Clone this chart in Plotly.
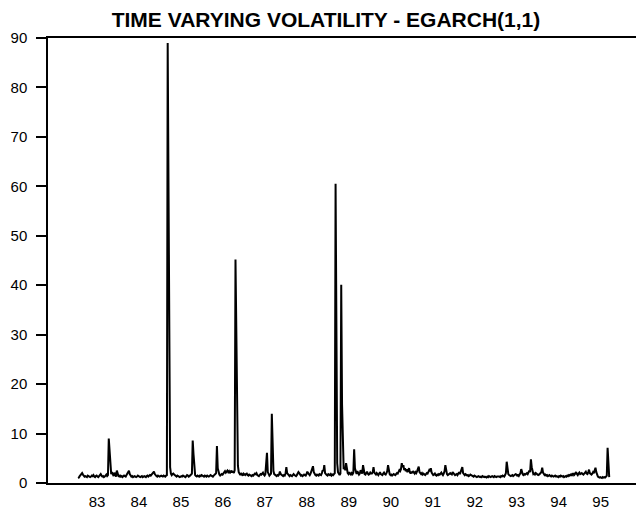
import numpy as np
import plotly.graph_objects as go

# Weekly conditional variance from an EGARCH(1,1) fit, one list per year
# (each year starts at x = 83.05 + k and holds up to 52 weekly observations).
vol_83 = [1.0, 1.1, 1.4, 1.6, 1.8, 2.0, 1.7, 1.5, 1.3, 1.4,
          1.3, 1.2, 1.5, 1.4, 1.3, 1.2, 1.3, 1.5, 1.4, 1.6,
          1.3, 1.2, 1.4, 1.5, 1.3, 1.2, 1.4, 1.6, 1.8, 1.5,
          1.3, 1.4, 1.2, 1.3, 1.5, 1.7, 1.4, 1.6, 9.0, 6.3,
          2.4, 1.8, 2.2, 1.6, 1.4, 2.1, 1.5, 1.3, 2.5, 1.6,
          1.4, 1.3]
vol_84 = [1.5, 1.3, 1.4, 1.2, 1.3, 1.5, 1.4, 1.3, 1.6, 1.9,
          2.1, 2.5, 1.8, 1.5, 1.3, 1.4, 1.2, 1.3, 1.4, 1.3,
          1.2, 1.3, 1.5, 1.4, 1.3, 1.2, 1.3, 1.4, 1.2, 1.3,
          1.4, 1.3, 1.2, 1.4, 1.5, 1.3, 1.4, 1.6, 1.5, 1.7,
          1.9, 2.1, 2.3, 1.8, 1.5, 1.4, 1.3, 1.5, 1.4, 1.3,
          1.4, 1.5]
vol_85 = [1.4, 1.3, 1.5, 1.4, 1.3, 1.5, 1.6, 89.0, 63.5, 37.5,
          3.2, 1.9, 1.6, 1.8, 1.9, 1.7, 1.5, 1.4, 1.3, 1.5,
          1.4, 1.3, 1.2, 1.3, 1.4, 1.3, 1.5, 1.4, 1.3, 1.2,
          1.4, 1.6, 1.5, 1.3, 1.4, 1.5, 1.7, 1.9, 8.6, 5.8,
          2.0, 1.6, 1.4, 1.3, 1.5, 1.4, 1.3, 1.5, 1.4, 1.6,
          1.5, 1.4]
vol_86 = [1.3, 1.5, 1.4, 1.3, 1.5, 1.4, 1.3, 1.4, 1.6, 1.5,
          1.4, 1.3, 1.5, 1.6, 1.8, 2.0, 7.5, 3.0, 1.9, 1.7,
          1.5, 1.6, 1.8, 1.7, 2.0, 2.2, 2.4, 2.1, 2.3, 2.5,
          2.2, 2.4, 2.0, 2.3, 2.5, 2.1, 2.4, 2.0, 2.6, 45.2,
          28.0, 18.0, 3.5, 2.2, 1.8, 1.6, 2.0, 1.7, 1.5, 1.9,
          1.7, 1.6]
vol_87 = [1.8, 1.9, 1.6, 1.5, 1.7, 1.6, 1.5, 1.4, 1.6, 1.5,
          1.7, 1.9, 1.8, 2.0, 1.6, 1.5, 1.4, 1.6, 1.8, 1.7,
          1.9, 2.1, 1.7, 1.5, 1.8, 4.0, 6.1, 2.2, 1.6, 1.5,
          1.7, 1.9, 14.0, 7.1, 2.4, 1.8, 1.6, 1.5, 1.4, 1.6,
          1.5, 1.7, 2.3, 1.8, 1.6, 1.5, 1.4, 1.6, 1.5, 1.9,
          3.2, 2.0]
vol_88 = [1.7, 1.5, 1.4, 1.6, 1.5, 1.4, 1.6, 1.8, 1.6, 1.5,
          1.4, 1.6, 1.8, 2.2, 2.0, 1.7, 1.5, 1.6, 1.4, 1.5,
          1.7, 1.6, 1.5, 1.8, 2.3, 2.0, 1.7, 1.6, 1.9, 2.4,
          2.8, 3.4, 2.2, 1.8, 1.6, 1.5, 1.7, 1.6, 1.5, 1.8,
          1.7, 1.6, 2.0, 2.6, 2.4, 3.6, 2.0, 1.7, 1.6, 1.5,
          1.8, 1.7]
vol_89 = [1.6, 1.8, 1.5, 1.7, 1.6, 1.8, 2.0, 60.5, 32.0, 4.0,
          2.2, 1.8, 1.6, 1.9, 40.1, 16.0, 4.5, 2.8, 3.2, 2.6,
          4.0, 2.4, 2.0, 1.8, 2.2, 1.9, 1.7, 2.0, 1.8, 2.1,
          6.8, 3.0, 2.0, 1.8, 2.4, 2.0, 1.7, 1.9, 2.6, 2.2,
          1.9, 3.6, 2.3, 1.8, 1.7, 2.0, 2.3, 1.9, 1.7, 1.8,
          2.1, 1.9]
vol_90 = [1.9, 2.2, 3.2, 2.1, 1.8, 1.7, 2.0, 1.8, 1.6, 1.9,
          2.2, 1.8, 1.7, 1.6, 1.9, 2.1, 1.8, 1.7, 2.0, 2.4,
          3.6, 2.2, 1.8, 1.6, 1.7, 1.5, 1.6, 1.8, 1.7, 1.6,
          1.8, 2.0, 1.9, 2.3, 2.6, 2.4, 2.8, 4.0, 3.2, 3.6,
          2.6, 3.0, 2.4, 2.8, 2.2, 2.5, 3.0, 2.2, 1.9, 2.3,
          2.0, 2.4]
vol_91 = [2.1, 1.9, 2.2, 2.0, 2.4, 2.8, 3.3, 2.2, 1.9, 1.8,
          2.0, 1.7, 1.9, 1.8, 1.6, 1.8, 2.0, 1.9, 2.2, 2.6,
          2.4, 3.0, 2.1, 1.8, 1.6, 1.7, 1.9, 1.6, 1.5, 1.7,
          1.6, 1.8, 1.7, 1.9, 2.1, 1.8, 1.6, 1.9, 2.4, 3.6,
          2.2, 1.8, 1.6, 1.7, 1.9, 2.0, 1.8, 1.7, 2.2, 1.9,
          1.7, 1.6]
vol_92 = [1.7, 1.8, 1.6, 1.9, 2.2, 1.8, 2.4, 2.8, 3.2, 2.0,
          1.7, 1.6, 1.8, 1.7, 1.5, 1.6, 1.4, 1.5, 1.7, 1.6,
          1.5, 1.4, 1.3, 1.5, 1.4, 1.3, 1.2, 1.3, 1.4, 1.3,
          1.2, 1.3, 1.2, 1.4, 1.3, 1.2, 1.3, 1.2, 1.1, 1.3,
          1.2, 1.4, 1.3, 1.2, 1.3, 1.4, 1.3, 1.2, 1.4, 1.3,
          1.2, 1.3]
vol_93 = [1.3, 1.4, 1.3, 1.2, 1.4, 1.3, 1.5, 1.4, 1.3, 1.6,
          2.0, 4.3, 2.4, 1.8, 1.6, 1.5, 1.4, 1.5, 1.6, 1.4,
          1.5, 1.6, 1.8, 1.7, 1.5, 1.6, 1.4, 1.7, 2.0, 2.8,
          2.0, 1.7, 1.6, 1.8, 1.7, 1.9, 2.0, 1.8, 2.2, 2.5,
          2.2, 4.8, 3.2, 2.4, 1.8, 1.9, 1.7, 2.0, 1.8, 1.7,
          1.6, 1.7]
vol_94 = [1.8, 2.0, 2.3, 3.1, 2.1, 1.8, 1.6, 1.7, 1.5, 1.6,
          1.4, 1.5, 1.6, 1.4, 1.3, 1.5, 1.4, 1.3, 1.4, 1.5,
          1.3, 1.4, 1.3, 1.2, 1.4, 1.3, 1.5, 1.4, 1.3, 1.4,
          1.2, 1.3, 1.4, 1.3, 1.5, 1.4, 1.6, 1.5, 1.7, 1.6,
          1.8, 1.6, 2.0, 1.7, 1.9, 2.2, 1.8, 1.6, 1.9, 2.1,
          1.8, 2.0]
vol_95 = [2.0, 1.8, 1.7, 1.9, 2.1, 2.3, 1.9, 1.8, 2.2, 2.7,
          2.0, 1.8, 1.7, 1.9, 2.2, 2.0, 2.4, 3.1, 2.2, 1.6,
          1.3, 1.2, 1.1, 1.2, 1.1, 1.0, 1.2, 1.1, 1.2, 1.1,
          1.3, 1.5, 7.1, 4.3, 1.2]

yearly = [vol_83, vol_84, vol_85, vol_86, vol_87, vol_88, vol_89,
          vol_90, vol_91, vol_92, vol_93, vol_94, vol_95]
first_week = 83.05
weeks_per_year = 52

tick_labels = ["83", "84", "85", "86", "87", "88", "89",
               "90", "91", "92", "93", "94", "95"]
tick_pos = [int(t) + 0.5 for t in tick_labels]

x, y = [], []
for k, vals in enumerate(yearly):
    for i, v in enumerate(vals):
        x.append(first_week + k + i / weeks_per_year)
        y.append(v)

fig = go.Figure()
fig.add_trace(go.Scatter(
    x=x, y=y, mode="lines",
    line=dict(color="black", width=2),
    hoverinfo="skip", showlegend=False,
))

fig.update_layout(
    width=636, height=509,
    margin=dict(l=48, r=0, t=38, b=26),
    paper_bgcolor="white", plot_bgcolor="white",
    font=dict(family="Liberation Sans, Arial, sans-serif", color="black"),
    title=dict(
        text="<b>TIME VARYING VOLATILITY - EGARCH(1,1)</b>",
        x=326 / 636, xanchor="center", xref="container",
        y=1 - 20 / 509, yanchor="middle", yref="container",
        font=dict(size=21, color="black"),
    ),
    showlegend=False,
)

fig.update_xaxes(
    range=[82.333, 96.342],
    tickmode="array", tickvals=tick_pos, ticktext=tick_labels,
    ticks="", showgrid=False, zeroline=False,
    showline=True, linecolor="black", linewidth=2, mirror=True,
    tickfont=dict(size=15, color="black"),
    ticklabelstandoff=4,
)
fig.update_yaxes(
    range=[0, 90], dtick=10, tick0=0,
    ticks="outside", ticklen=10, tickwidth=2, tickcolor="black",
    showgrid=False, zeroline=False,
    showline=True, linecolor="black", linewidth=1.5,
    tickfont=dict(size=15, color="black"),
    ticklabelstandoff=6,
)

fig.write_html("out.html")
